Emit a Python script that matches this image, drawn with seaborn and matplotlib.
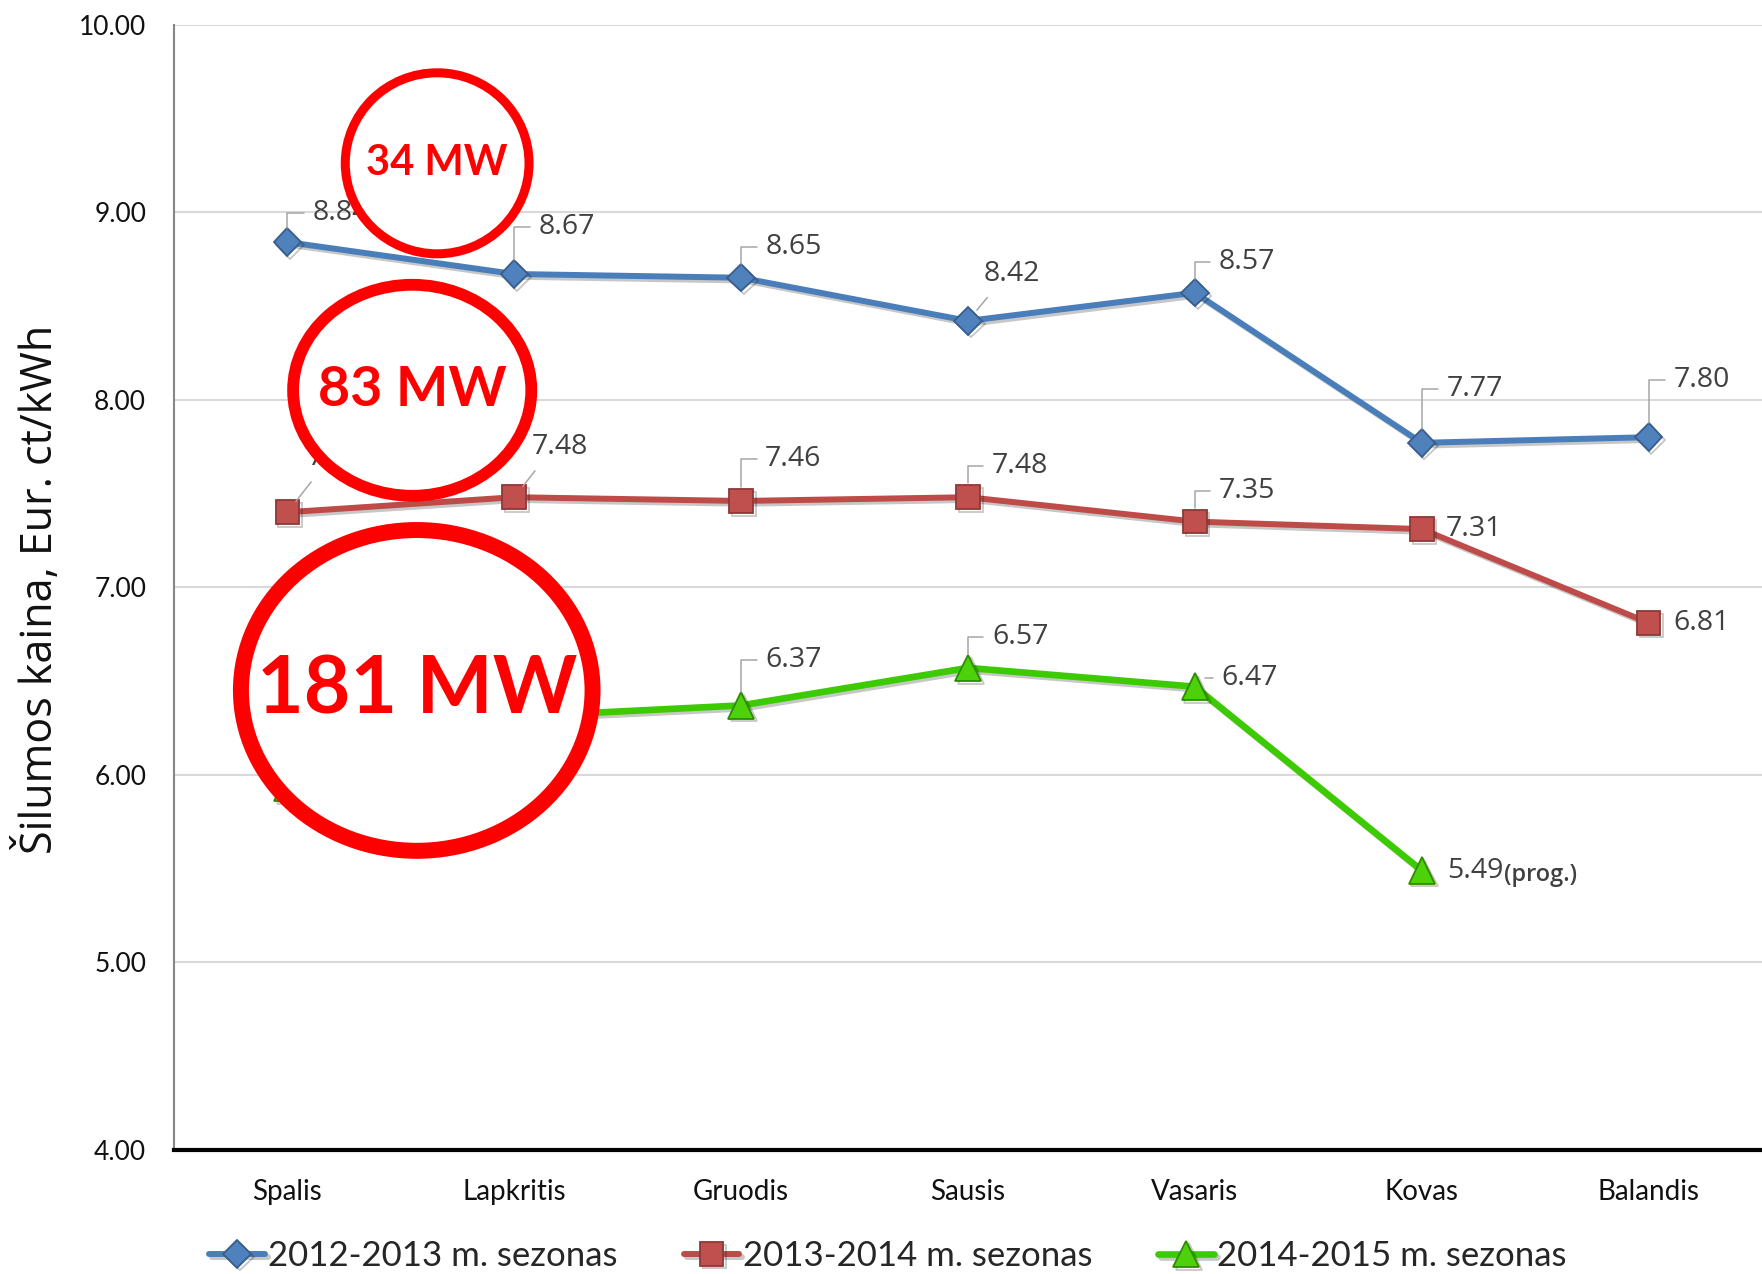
import numpy as np
import pandas as pd
import seaborn as sns
import matplotlib.pyplot as plt
import matplotlib.patheffects as pe
from matplotlib.patches import Ellipse

# chart data
months = ["Spalis", "Lapkritis", "Gruodis", "Sausis", "Vasaris", "Kovas", "Balandis"]
seasons = ["2012-2013 m. sezonas", "2013-2014 m. sezonas", "2014-2015 m. sezonas"]
price_2012 = [8.84, 8.67, 8.65, 8.42, 8.57, 7.77, 7.80]
price_2013 = [7.40, 7.48, 7.46, 7.48, 7.35, 7.31, 6.81]
price_2014 = [5.93, 6.31, 6.37, 6.57, 6.47, 5.49, np.nan]
y_ticks = [4.0, 5.0, 6.0, 7.0, 8.0, 9.0, 10.0]
circle_text = ["34 MW", "83 MW", "181 MW"]

# long-form frame for seaborn
df = pd.DataFrame({
    "month": months * 3,
    "price": price_2012 + price_2013 + price_2014,
    "season": np.repeat(seasons, len(months)),
})

sns.set_style("white")
plt.rcParams["font.family"] = ["Lato", "DejaVu Sans"]
label_font = ["Open Sans", "DejaVu Sans"]

W, H = 1762, 1274
fig = plt.figure(figsize=(W / 100, H / 100), dpi=100)
ax = fig.add_axes([174 / W, 124 / H, 1588 / W, 1125.5 / H])

line_colors = ["#4A7EBB", "#BE4B48", "#3CCB00"]
sns.lineplot(data=df, x="month", y="price", hue="season", style="season",
             markers=["D", "s", "^"], dashes=False, palette=line_colors,
             sort=False, errorbar=None, linewidth=4.3, legend=False, ax=ax)

# marker look per series
marker_sizes = [14, 17, 19]
line_widths = [4.3, 4.3, 4.8]
face_colors = ["#4F81BD", "#C0504D", "#4CD10A"]
edge_colors = ["#385D8A", "#8C3836", "#2E8B00"]
for line, ms, lw, fc, ec in zip(ax.lines, marker_sizes, line_widths, face_colors, edge_colors):
    line.set_markersize(ms)
    line.set_linewidth(lw)
    line.set_markerfacecolor(fc)
    line.set_markeredgecolor(ec)
    line.set_markeredgewidth(1.3)
    line.set_solid_joinstyle("round")
    line.set_zorder(4)
    line.set_path_effects([pe.SimpleLineShadow(offset=(2, -2), alpha=0.22), pe.Normal()])

# axes styling
ax.set_xlim(-0.5, 6.5)
ax.set_ylim(4, 10)
ax.set_yticks(y_ticks)
ax.set_yticklabels([f"{t:.2f}" for t in y_ticks])
ax.yaxis.grid(True, color="#D9D9D9", linewidth=1.5)
ax.set_axisbelow(True)
ax.tick_params(axis="y", length=0, pad=20, labelsize=19, labelcolor="#111111")
ax.tick_params(axis="x", direction="in", length=7, width=1.5, color="#555555",
               pad=21, labelsize=20, labelcolor="#111111")
ax.set_xlabel("")
ax.set_ylabel("")
ax.spines["top"].set_visible(False)
ax.spines["right"].set_visible(False)
ax.spines["left"].set_color("#868686")
ax.spines["left"].set_linewidth(1.5)
ax.spines["bottom"].set_color("black")
ax.spines["bottom"].set_linewidth(3)

fig.text(39 / W, 0.537, "Šilumos kaina, Eur. ct/kWh", rotation=90, ha="center",
         va="center", fontsize=31, family=label_font, color="#111111")

# data labels: offset in pixels (dx, dy up) and leader type; None = hidden under a circle
label_offsets = [
    [(25, 29, "angle"), (24, 47, "angle"), (24, 31, "angle"), (16, 47, "diag"),
     (24, 31, "angle"), (25, 54, "angle"), (25, 57, "angle")],
    [(20, 54, "diag"), (17, 50, "diag"), (24, 42, "angle"), (24, 31, "angle"),
     (24, 31, "angle"), (24, 0, None), (25, 0, None)],
    [None, None, (24, 45, "angle"), (24, 31, "angle"),
     (27, 9, "angle"), (25, 0, None), None],
]
series_values = [price_2012, price_2013, price_2014]
last_label = None
for vals, offs in zip(series_values, label_offsets):
    for j, (v, off) in enumerate(zip(vals, offs)):
        if off is None or np.isnan(v):
            continue
        dx, dy, kind = off
        arrow = None
        if kind == "angle":
            arrow = dict(arrowstyle="-", color="#A6A6A6", lw=1.1,
                         connectionstyle="angle,angleA=0,angleB=90,rad=0",
                         relpos=(0, 0.5), shrinkA=0, shrinkB=10)
        elif kind == "diag":
            arrow = dict(arrowstyle="-", color="#A6A6A6", lw=1.1,
                         relpos=(0.2, 0), shrinkA=1, shrinkB=10)
        last_label = ax.annotate(f"{v:.2f}", xy=(j, v), xytext=(dx * 0.72, dy * 0.72),
                                 textcoords="offset points", ha="left", va="center",
                                 fontsize=20.5, color="#404040", family=label_font,
                                 arrowprops=arrow, zorder=6,
                                 bbox=dict(boxstyle="square,pad=0.3", fc="none", ec="none"))

# "(prog.)" note after the last green label
ax.annotate("(prog.)", xy=(1, 0.5), xycoords=last_label, xytext=(1, -3),
            textcoords="offset points", ha="left", va="center", fontsize=17,
            fontweight="semibold", color="#404040", family=label_font, zorder=6)

# red circled notes drawn over the chart
circle_center = [(0.66, 9.26), (0.55, 8.05), (0.57, 6.45)]
circle_size = [(0.81, 0.965), (1.05, 1.125), (1.55, 1.71)]
circle_lw = [6.5, 8.5, 11.5]
circle_fs = [30, 40, 58]
for txt, (cx, cy), (cw, ch), lw, fs in zip(circle_text, circle_center, circle_size,
                                            circle_lw, circle_fs):
    ax.add_patch(Ellipse((cx, cy), cw, ch, facecolor="white", edgecolor="#FF0000",
                         linewidth=lw, zorder=10, clip_on=False))
    ax.text(cx, cy, txt, ha="center", va="center", fontsize=fs, fontweight="bold",
            color="#FF0000", zorder=11)

fig.legend(handles=ax.lines[:3], labels=seasons, loc="center",
           bbox_to_anchor=(0.504, 0.0141), ncol=3, frameon=False, fontsize=25,
           handlelength=1.6, handletextpad=0.1, columnspacing=1.9,
           labelcolor="#262626")

fig.savefig("out.png", dpi=100)
